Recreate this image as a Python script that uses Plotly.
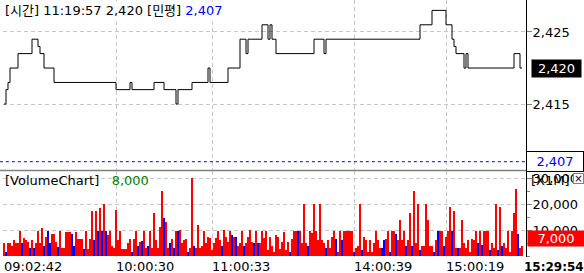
import plotly.graph_objects as go

# ---------------- data ----------------
cursor_time = "11:19:57"
cursor_price = 2420
current_price = 2420
pingyeong = 2407          # 민평
current_volume = 8000
volume_marker = 7000
last_time = "15:29:54"

price = [
    2415, 2417, 2418, 2420, 2420, 2420, 2420, 2422, 2422, 2422, 2422, 2422, 2422, 2422, 2424, 2424, 2424, 2423, 2422, 2422,
    2420, 2420, 2420, 2420, 2420, 2418, 2418, 2418, 2418, 2418, 2418, 2418, 2418, 2418, 2418, 2418, 2418, 2418, 2418, 2418,
    2418, 2418, 2418, 2418, 2418, 2418, 2418, 2418, 2418, 2418, 2418, 2418, 2418, 2418, 2418, 2418, 2417, 2417, 2417, 2417,
    2417, 2417, 2417, 2418, 2417, 2417, 2417, 2417, 2417, 2417, 2417, 2417, 2417, 2417, 2417, 2418, 2418, 2418, 2418, 2418,
    2417, 2417, 2417, 2417, 2417, 2417, 2415, 2417, 2417, 2417, 2417, 2417, 2417, 2417, 2418, 2418, 2418, 2418, 2418, 2418,
    2418, 2418, 2420, 2418, 2418, 2418, 2418, 2418, 2418, 2418, 2418, 2418, 2420, 2420, 2420, 2420, 2420, 2420, 2424, 2424,
    2424, 2422, 2424, 2424, 2424, 2424, 2424, 2424, 2424, 2426, 2426, 2426, 2424, 2426, 2424, 2424, 2422, 2422, 2422, 2422,
    2422, 2422, 2422, 2422, 2422, 2422, 2422, 2422, 2422, 2422, 2422, 2422, 2422, 2422, 2422, 2424, 2424, 2424, 2424, 2424,
    2422, 2424, 2424, 2424, 2424, 2424, 2424, 2424, 2424, 2424, 2424, 2424, 2424, 2424, 2424, 2424, 2424, 2424, 2424, 2424,
    2424, 2424, 2424, 2424, 2424, 2424, 2424, 2424, 2424, 2424, 2424, 2424, 2424, 2424, 2424, 2424, 2424, 2424, 2424, 2424,
    2424, 2424, 2424, 2424, 2424, 2424, 2424, 2424, 2426, 2426, 2426, 2426, 2426, 2426, 2428, 2428, 2428, 2428, 2428, 2428,
    2428, 2426, 2426, 2426, 2424, 2423, 2422, 2422, 2422, 2422, 2420, 2422, 2420, 2420, 2420, 2420, 2420, 2420, 2420, 2420,
    2420, 2420, 2420, 2420, 2420, 2420, 2420, 2420, 2420, 2420, 2420, 2420, 2420, 2420, 2420, 2422, 2422, 2422, 2420, 2420,
]

volume = [
    5100, 1800, 5000, 5000, 4000, 6400, 5000, 5000, 9600, 5000, 7000, 6400, 5700, 3200, 6400, 3200, 5000, 9600, 5000, 11000,
    3800, 7600, 9800, 5000, 8800, 8800, 5700, 3500, 9600, 3200, 3200, 9200, 9200, 9200, 8800, 3800, 9200, 6800, 6800, 6800,
    2800, 9600, 2800, 6700, 17300, 6400, 17300, 9800, 18500, 9800, 20200, 9800, 8300, 9800, 3800, 3200, 17900, 6400, 9600, 2800,
    2800, 2800, 5000, 6800, 1800, 6800, 9600, 3800, 5700, 6000, 9600, 3200, 3800, 9600, 3200, 16600, 6400, 3200, 11500, 25200,
    14700, 13400, 3200, 5000, 6700, 3200, 9600, 9800, 10200, 5000, 6400, 6700, 1800, 3200, 30100, 3800, 3200, 12100, 3200, 3800,
    9600, 5000, 7300, 7000, 2500, 5000, 7000, 9600, 6400, 3800, 10200, 7600, 5700, 9600, 8300, 7600, 7600, 3800, 5000, 9800,
    3800, 5000, 7600, 10200, 5700, 5000, 9800, 5000, 5000, 9800, 7000, 9800, 2500, 7600, 3800, 1800, 8300, 7600, 2800, 5700,
    9200, 2500, 5700, 1800, 6800, 9800, 9800, 9800, 9800, 5000, 20200, 5000, 3800, 9800, 9000, 20200, 9800, 6400, 20200, 6400,
    5000, 3200, 6400, 3200, 7600, 9800, 6800, 1800, 9800, 6400, 9800, 9800, 9800, 9800, 9800, 1800, 3200, 3800, 20200, 2500,
    7600, 6400, 1800, 6400, 1800, 5000, 9800, 6400, 3200, 3200, 6400, 6800, 9800, 1800, 9800, 9800, 8800, 6400, 14000, 6400,
    9800, 3800, 6400, 16600, 3800, 25200, 5000, 20200, 2500, 3800, 3800, 20200, 14000, 3800, 3800, 1800, 6400, 9800, 9800, 9800,
    3800, 7600, 9800, 19200, 9800, 17300, 3200, 3200, 3200, 14000, 5000, 3200, 6400, 1800, 6800, 6400, 9800, 5000, 9800, 4400,
    9800, 9800, 9800, 2500, 5000, 3200, 20200, 2500, 19000, 3800, 5000, 3200, 9800, 1800, 9800, 16600, 26000, 8800, 3200, 3800,
]

direction = list(
    "RBRRRRRRRBRRRBRBRRRR"
    "BRBBRRRBRRRRRRBBRRRR"
    "BRRRRBRBRBRBRRRRRRRR"
    "RRRRBRRBRBRRBRRRRRRR"
    "BRRBRBRBRRRRBRRBRRRR"
    "RRRRRRRRRBRRRRBRBRRR"
    "BRRRRBRBRRRRRRRRRRRR"
    "RRRBRRRBRRRRBRRRRRRR"
    "RBRRRRBRRBRRRRRBRRRB"
    "RRRRRRRRRBBRRBRRBRRR"
    "RBRRBRRRBRRRRRRBRBRR"
    "BRRRBRRBRRRRRRRRRBRB"
    "RRRBRRRBRBRRRRRRRBRR"
)

tick_index = [0, 56, 104, 175, 221]
tick_labels = ["09:02:42", "10:00:30", "11:00:33", "14:00:39", "15:00:19"]

# ---------------- figure ----------------
idx = list(range(len(price)))
bar_colors = ["#ff0000" if d == "R" else "#0000ff" for d in direction]

FONT = "DejaVu Sans, Noto Sans CJK KR, sans-serif"
GRID = "#c8c8c8"

fig = go.Figure()
fig.add_trace(go.Bar(
    x=idx, y=volume, marker=dict(color=bar_colors, line=dict(width=0)),
    width=1, xaxis="x2", yaxis="y2", showlegend=False, hoverinfo="skip"))
fig.add_trace(go.Scatter(
    x=idx, y=price, mode="lines", line=dict(color="black", width=1, shape="hv"),
    xaxis="x", yaxis="y", showlegend=False, hoverinfo="skip"))

xcommon = dict(range=[-0.5, 261], tickmode="array", tickvals=tick_index,
               showgrid=True, gridcolor=GRID, griddash="4px,3px", gridwidth=1,
               zeroline=False, ticks="", showline=False)

yfont = dict(family=FONT, size=13, color="black")

fig.update_layout(
    width=584, height=273,
    margin=dict(l=3, r=58, t=0, b=16),
    paper_bgcolor="white", plot_bgcolor="white",
    font=dict(family=FONT, size=13, color="black"),
    bargap=0,
    xaxis=dict(domain=[0, 1], anchor="y", showticklabels=False, **xcommon),
    xaxis2=dict(domain=[0, 1], anchor="y2", matches="x", ticktext=tick_labels,
                ticklabelposition="outside right",
                tickfont=dict(family=FONT, size=13, color="black"), **xcommon),
    yaxis=dict(domain=[0.338, 1], range=[2405.83, 2429.44], side="right",
               tickmode="array", tickvals=[2415, 2425], tickformat=",d",
               showgrid=True, gridcolor=GRID, griddash="4px,3px",
               showline=True, linecolor="black", linewidth=1,
               ticks="outside", ticklen=5, tickcolor="#808080",
               ticklabelstandoff=-2,
               zeroline=False, tickfont=yfont),
    yaxis2=dict(domain=[0, 0.334], range=[-190, 32885], side="right",
                tickmode="array", tickvals=[10000, 20000, 30000], tickformat=",d",
                showgrid=True, gridcolor=GRID, griddash="4px,3px",
                showline=True, linecolor="black", linewidth=1,
                ticks="outside", ticklen=5, tickcolor="#808080",
                ticklabelstandoff=-2,
                minor=dict(dtick=5000, tick0=0, ticks="outside", ticklen=3,
                           tickcolor="#808080", showgrid=False),
                zeroline=False, tickfont=yfont),
)

shapes = [
    # 민평 level line
    dict(type="line", xref="paper", yref="y", x0=-0.006, x1=1, y0=pingyeong, y1=pingyeong,
         line=dict(color="#0000ff", width=1, dash="3px,3px")),
    # panel separator
    dict(type="line", xref="paper", yref="paper", x0=-0.006, x1=1, y0=0.3366, y1=0.3366,
         line=dict(color="#808080", width=1.5)),
]
fig.update_layout(shapes=shapes)

ann = []
ann.append(dict(
    xref="paper", yref="paper", x=0, y=1, xanchor="left", yanchor="top", yshift=-1,
    text=f"[시간] {cursor_time} {cursor_price:,} [민평] <span style='color:#0000ff'>{pingyeong:,}</span>",
    showarrow=False, bgcolor="white", font=dict(family=FONT, size=13, color="black")))
ann.append(dict(
    xref="paper", yref="paper", x=0, y=1 - 180 / 257, xanchor="left", yanchor="middle",
    text=f"[VolumeChart]   <span style='color:#008000'>{current_volume:,}</span>",
    showarrow=False, font=dict(family=FONT, size=13, color="black")))
ann.append(dict(
    xref="paper", yref="y", x=1, y=current_price, xanchor="left", xshift=5,
    text=f"{current_price:,}", showarrow=False, bgcolor="black", width=47, height=15,
    font=dict(family=FONT, size=13, color="white")))
ann.append(dict(
    xref="paper", yref="y", x=1, y=pingyeong, xanchor="left", xshift=0,
    text=f"{pingyeong:,}", showarrow=False, bgcolor="white", bordercolor="black", borderwidth=1,
    width=54, height=17, font=dict(family=FONT, size=13, color="#0000ff")))
ann.append(dict(
    xref="paper", yref="y2", x=1, y=volume_marker, xanchor="left", xshift=1,
    text=f"{volume_marker:,}", showarrow=False, bgcolor="#ff0000", width=54, height=13,
    font=dict(family=FONT, size=13, color="white")))
ann.append(dict(
    xref="paper", yref="paper", x=1, y=1 - 180 / 257, xanchor="left", yanchor="middle", xshift=3,
    text="[X1M]", showarrow=False, font=dict(family=FONT, size=13, color="black")))
ann.append(dict(
    xref="paper", yref="paper", x=1, y=1 - 178 / 257, xanchor="left", yanchor="middle", xshift=47,
    text="×", showarrow=False, bgcolor="white", bordercolor="#808080", borderwidth=1, borderpad=0,
    width=9, height=9, font=dict(family=FONT, size=10, color="black")))
ann.append(dict(
    xref="paper", yref="paper", x=1, y=0, xanchor="left", yanchor="top", xshift=-4, yshift=-1,
    text=f"<b>{last_time}</b>", showarrow=False, font=dict(family=FONT, size=12, color="black")))
fig.update_layout(annotations=ann)

fig.write_html("out.html")
